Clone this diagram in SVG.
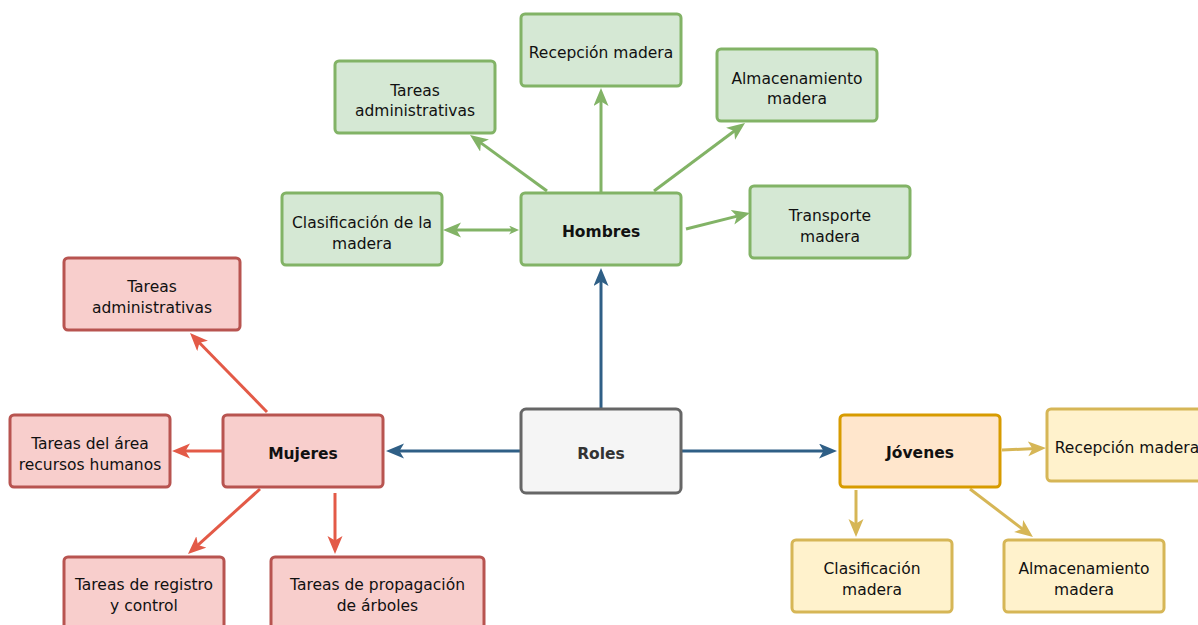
<svg xmlns="http://www.w3.org/2000/svg" width="1198" height="625" viewBox="0 0 1198 625">
<style>
text{font-family:"DejaVu Sans","Liberation Sans",sans-serif;font-size:15.5px;fill:#111111;text-anchor:middle}
.b{font-weight:bold}
rect{stroke-width:3}
.g rect{fill:#d5e8d4;stroke:#82b366}
.r rect{fill:#f8cecc;stroke:#b85450}
.y rect{fill:#fff2cc;stroke:#d6b656}
.o rect{fill:#ffe6cc;stroke:#d79b00}
.n rect{fill:#f5f5f5;stroke:#666666}
.n text{fill:#333333}
#edges path{fill:none;stroke-width:3}
.eg{stroke:#82b366}
.er{stroke:#e35a47}
.ey{stroke:#d6b656}
.eb{stroke:#2f5f86}
</style>
<defs>
<marker id="ag" markerUnits="userSpaceOnUse" markerWidth="19" markerHeight="16" refX="8" refY="7.5" orient="auto"><path d="M0,0 L18,7.5 L0,15 L4.5,7.5 z" fill="#82b366"/></marker>
<marker id="ags" markerUnits="userSpaceOnUse" markerWidth="11" markerHeight="10" refX="3" refY="4.5" orient="auto-start-reverse"><path d="M0,0 L10,4.5 L0,9 L3,4.5 z" fill="#82b366"/></marker>
<marker id="ar" markerUnits="userSpaceOnUse" markerWidth="19" markerHeight="16" refX="8" refY="7.5" orient="auto"><path d="M0,0 L18,7.5 L0,15 L4.5,7.5 z" fill="#e35a47"/></marker>
<marker id="ay" markerUnits="userSpaceOnUse" markerWidth="19" markerHeight="16" refX="8" refY="7.5" orient="auto"><path d="M0,0 L18,7.5 L0,15 L4.5,7.5 z" fill="#d6b656"/></marker>
<marker id="ab" markerUnits="userSpaceOnUse" markerWidth="19" markerHeight="16" refX="8" refY="7.5" orient="auto"><path d="M0,0 L18,7.5 L0,15 L4.5,7.5 z" fill="#2f5f86"/></marker>
</defs>
<g id="edges">
<path class="eb" d="M601,409 L601,278" marker-end="url(#ab)"/>
<path class="eb" d="M521,451 L396,451" marker-end="url(#ab)"/>
<path class="eb" d="M681,451 L827,451" marker-end="url(#ab)"/>
<path class="eg" d="M601,193 L601,98" marker-end="url(#ag)"/>
<path class="eg" d="M547,191 L478.1,140.9" marker-end="url(#ag)"/>
<path class="eg" d="M654,191 L737,129" marker-end="url(#ag)"/>
<path class="eg" d="M686,229 L740.3,215.4" marker-end="url(#ag)"/>
<path class="eg" d="M512,230 L453,230" marker-start="url(#ags)" marker-end="url(#ag)"/>
<path class="er" d="M267,412 L197,340.2" marker-end="url(#ar)"/>
<path class="er" d="M222,451 L182,451" marker-end="url(#ar)"/>
<path class="er" d="M260,489 L195.4,547.3" marker-end="url(#ar)"/>
<path class="er" d="M335,493 L335,544" marker-end="url(#ar)"/>
<path class="ey" d="M1002,450 L1036,448.5" marker-end="url(#ay)"/>
<path class="ey" d="M856,490 L856,527" marker-end="url(#ay)"/>
<path class="ey" d="M970,489 L1025,530.9" marker-end="url(#ay)"/>
</g>
<g id="roles" class="n"><rect x="521" y="409" width="160" height="84" rx="5"/><text class="b" x="601" y="459">Roles</text></g>
<g id="hombres" class="g"><rect x="521" y="193" width="160" height="72" rx="4"/><text class="b" x="601" y="237">Hombres</text></g>
<g id="h-recepcion" class="g"><rect x="521" y="14" width="160" height="72" rx="4"/><text x="601" y="58">Recepción madera</text></g>
<g id="h-tareas" class="g"><rect x="335" y="61" width="160" height="72" rx="4"/><text x="415" y="96">Tareas</text><text x="415" y="116">administrativas</text></g>
<g id="h-almacen" class="g"><rect x="717" y="49" width="160" height="72" rx="4"/><text x="797" y="84">Almacenamiento</text><text x="797" y="104">madera</text></g>
<g id="h-clasif" class="g"><rect x="282" y="193" width="160" height="72" rx="4"/><text x="362" y="228">Clasificación de la</text><text x="362" y="249">madera</text></g>
<g id="h-transporte" class="g"><rect x="750" y="186" width="160" height="72" rx="4"/><text x="830" y="221">Transporte</text><text x="830" y="242">madera</text></g>
<g id="mujeres" class="r"><rect x="223" y="415" width="160" height="72" rx="4"/><text class="b" x="303" y="459">Mujeres</text></g>
<g id="m-tareas" class="r"><rect x="64" y="258" width="176" height="72" rx="4"/><text x="152" y="292">Tareas</text><text x="152" y="313">administrativas</text></g>
<g id="m-rrhh" class="r"><rect x="10" y="415" width="160" height="72" rx="4"/><text x="90" y="449">Tareas del área</text><text x="90" y="470">recursos humanos</text></g>
<g id="m-registro" class="r"><rect x="64" y="557" width="160" height="80" rx="4"/><text x="144" y="590">Tareas de registro</text><text x="144" y="611">y control</text></g>
<g id="m-propagacion" class="r"><rect x="271" y="557" width="213" height="80" rx="4"/><text x="377.5" y="590">Tareas de propagación</text><text x="377.5" y="611">de árboles</text></g>
<g id="jovenes" class="o"><rect x="840" y="415" width="160" height="72" rx="4"/><text class="b" x="920" y="458">Jóvenes</text></g>
<g id="j-recepcion" class="y"><rect x="1047" y="409" width="160" height="72" rx="4"/><text x="1127" y="453">Recepción madera</text></g>
<g id="j-clasif" class="y"><rect x="792" y="540" width="160" height="72" rx="4"/><text x="872" y="574">Clasificación</text><text x="872" y="595">madera</text></g>
<g id="j-almacen" class="y"><rect x="1004" y="540" width="160" height="72" rx="4"/><text x="1084" y="574">Almacenamiento</text><text x="1084" y="595">madera</text></g>
</svg>
